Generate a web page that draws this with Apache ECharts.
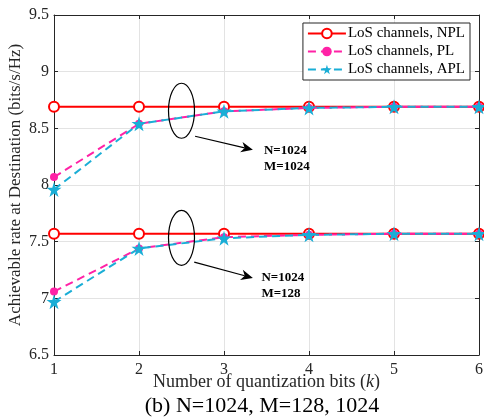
<!DOCTYPE html>
<html>
<head>
<meta charset="utf-8">
<script src="https://cdn.jsdelivr.net/npm/echarts@6/dist/echarts.min.js"></script>
<style>
  html, body { margin: 0; padding: 0; background: #fff; }
  #rate-chart { width: 484px; height: 417px; }
</style>
</head>
<body>
<div id="rate-chart"></div>
<script>
// quantization bits k
const bits = [1, 2, 3, 4, 5, 6];

// N=1024, M=1024
const nplM1024 = [8.69, 8.69, 8.69, 8.69, 8.69, 8.69];
const plM1024 = [8.07, 8.54, 8.65, 8.68, 8.69, 8.69];
const aplM1024 = [7.96, 8.54, 8.65, 8.68, 8.69, 8.69];

// N=1024, M=128
const nplM128 = [7.57, 7.57, 7.57, 7.57, 7.57, 7.57];
const plM128 = [7.06, 7.44, 7.54, 7.56, 7.57, 7.57];
const aplM128 = [6.97, 7.44, 7.53, 7.56, 7.57, 7.57];

// annotation groups: ellipse centre, arrow start/end, label anchor
const groups = [
  { cx: 2.5, cy: 8.655, from: [2.66, 8.43], to: [3.34, 8.31], at: [3.47, 8.37], label: ['N=1024', 'M=1024'] },
  { cx: 2.5, cy: 7.534, from: [2.65, 7.32], to: [3.34, 7.18], at: [3.44, 7.25], label: ['N=1024', 'M=128'] },
];

const FONT = '"Liberation Serif", "DejaVu Serif", serif';
const RED = '#ff0000';
const PINK = '#ff22a6';
const CYAN = '#1aaed6';
const STAR = 'path://M50,0 L61,35 L98,35 L68,57 L79,92 L50,71 L21,92 L32,57 L2,35 L39,35 Z';

const zip = (ys) => bits.map((k, i) => [k, ys[i]]);

function lineSeries(name, ys, color, symbol, size, dashed, filled) {
  return {
    name,
    type: 'line',
    data: zip(ys),
    symbol,
    symbolSize: size,
    showSymbol: true,
    z: dashed ? 3 : 2,
    lineStyle: { color, width: 2, type: dashed ? [8, 5] : 'solid' },
    itemStyle: { color: filled ? color : '#fff', borderColor: color, borderWidth: filled ? 0 : 2 },
    emphasis: { disabled: true },
    animation: false,
  };
}

const chart = echarts.init(document.getElementById('rate-chart'));

const series = [
  lineSeries('LoS channels, NPL', nplM1024, RED, 'circle', 10, false, false),
  lineSeries('LoS channels, PL', plM1024, PINK, 'circle', 8, true, true),
  lineSeries('LoS channels, APL', aplM1024, CYAN, STAR, 15, true, true),
  lineSeries('LoS channels, NPL', nplM128, RED, 'circle', 10, false, false),
  lineSeries('LoS channels, PL', plM128, PINK, 'circle', 8, true, true),
  lineSeries('LoS channels, APL', aplM128, CYAN, STAR, 15, true, true),
  {
    type: 'custom',
    data: groups.map((g, i) => [g.cx, g.cy, i]),
    silent: true,
    z: 10,
    animation: false,
    renderItem(params, api) {
      const g = groups[api.value(2)];
      const c = api.coord([g.cx, g.cy]);
      const p1 = api.coord(g.from);
      const p2 = api.coord(g.to);
      const t = api.coord(g.at);
      const ang = Math.atan2(p2[1] - p1[1], p2[0] - p1[0]);
      const head = 13, spread = 0.42;
      const tip = p2;
      const a1 = [tip[0] - head * Math.cos(ang - spread), tip[1] - head * Math.sin(ang - spread)];
      const a2 = [tip[0] - head * Math.cos(ang + spread), tip[1] - head * Math.sin(ang + spread)];
      const notch = [tip[0] - head * 0.65 * Math.cos(ang), tip[1] - head * 0.65 * Math.sin(ang)];
      return {
        type: 'group',
        children: [
          {
            type: 'ellipse',
            shape: { cx: c[0], cy: c[1], rx: 13, ry: 27.5 },
            style: { fill: 'none', stroke: '#000', lineWidth: 1.2 },
          },
          {
            type: 'line',
            shape: { x1: p1[0], y1: p1[1], x2: notch[0], y2: notch[1] },
            style: { stroke: '#000', lineWidth: 1.2 },
          },
          {
            type: 'polygon',
            shape: { points: [tip, a1, notch, a2] },
            style: { fill: '#000' },
          },
          {
            type: 'text',
            x: t[0],
            y: t[1],
            style: {
              text: g.label.join('\n'),
              font: 'bold 13px ' + FONT,
              fill: '#000',
              lineHeight: 16,
              textVerticalAlign: 'top',
            },
          },
        ],
      };
    },
  },
];

chart.setOption({
  animation: false,
  backgroundColor: '#fff',
  title: {
    text: '(b) N=1024, M=128, 1024',
    left: 257,
    textAlign: 'center',
    bottom: -5,
    textStyle: { fontFamily: FONT, fontSize: 22, fontWeight: 'normal', color: '#000' },
  },
  legend: {
    data: ['LoS channels, NPL', 'LoS channels, PL', 'LoS channels, APL'],
    orient: 'vertical',
    right: 14,
    top: 23,
    itemWidth: 38,
    itemHeight: 12,
    itemGap: 3,
    padding: [3, 5, 3, 4],
    backgroundColor: '#fff',
    borderColor: '#262626',
    borderWidth: 1,
    borderRadius: 0,
    textStyle: { fontFamily: FONT, fontSize: 15, color: '#000', padding: [0, 0, 0, -3] },
  },
  grid: { left: 54, right: 5, top: 15, bottom: 62, containLabel: false, outerBoundsMode: 'none' },
  xAxis: [
    {
      type: 'value',
      min: 1,
      max: 6,
      interval: 1,
      name: 'Number of quantization bits ({i|k})',
      nameLocation: 'middle',
      nameGap: 18,
      nameMoveOverlap: false,
      nameTextStyle: {
        fontFamily: FONT, fontSize: 18, color: '#262626',
        rich: { i: { fontFamily: FONT, fontSize: 18, fontStyle: 'italic', color: '#262626' } },
      },
      axisLine: { lineStyle: { color: '#262626', width: 1 } },
      axisTick: { inside: true, length: 4, lineStyle: { color: '#262626' } },
      axisLabel: { fontFamily: FONT, fontSize: 16, color: '#262626', margin: 7 },
      splitLine: { show: true, lineStyle: { color: '#e3e3e3', width: 1 } },
    },
    {
      type: 'value',
      position: 'top',
      min: 1,
      max: 6,
      interval: 1,
      axisLine: { lineStyle: { color: '#262626', width: 1 } },
      axisTick: { inside: true, length: 4, lineStyle: { color: '#262626' } },
      axisLabel: { show: false },
      splitLine: { show: false },
    },
  ],
  yAxis: [
    {
      type: 'value',
      min: 6.5,
      max: 9.5,
      interval: 0.5,
      name: 'Achievable rate at Destination (bits/s/Hz)',
      nameLocation: 'middle',
      nameGap: 30,
      nameMoveOverlap: false,
      nameTextStyle: { fontFamily: FONT, fontSize: 17, color: '#262626' },
      axisLine: { show: true, lineStyle: { color: '#262626', width: 1 } },
      axisTick: { show: true, inside: true, length: 4, lineStyle: { color: '#262626' } },
      axisLabel: { fontFamily: FONT, fontSize: 16, color: '#262626', margin: 5 },
      splitLine: { show: true, lineStyle: { color: '#e3e3e3', width: 1 } },
    },
    {
      type: 'value',
      position: 'right',
      min: 6.5,
      max: 9.5,
      interval: 0.5,
      axisLine: { show: true, lineStyle: { color: '#262626', width: 1 } },
      axisTick: { show: true, inside: true, length: 4, lineStyle: { color: '#262626' } },
      axisLabel: { show: false },
      splitLine: { show: false },
    },
  ],
  series,
});
</script>
</body>
</html>
